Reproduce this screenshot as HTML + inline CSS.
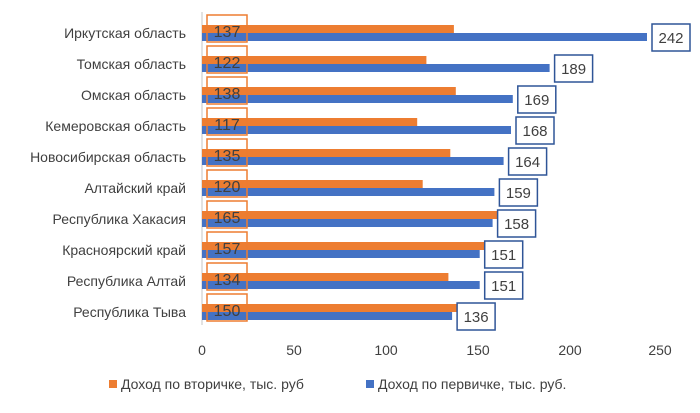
<!DOCTYPE html><html><head><style>body{margin:0;background:#fff}</style></head><body>
<svg width="700" height="408" xmlns="http://www.w3.org/2000/svg" font-family="Liberation Sans, sans-serif">
<line x1="202" y1="12" x2="202" y2="325" stroke="#d9d9d9" stroke-width="1.5"/>
<g font-size="14" fill="#404040" text-anchor="end">
<text x="186" y="38">Иркутская область</text>
<text x="186" y="69">Томская область</text>
<text x="186" y="100">Омская область</text>
<text x="186" y="131">Кемеровская область</text>
<text x="186" y="162">Новосибирская область</text>
<text x="186" y="193">Алтайский край</text>
<text x="186" y="224">Республика Хакасия</text>
<text x="186" y="255">Красноярский край</text>
<text x="186" y="286">Республика Алтай</text>
<text x="186" y="317">Республика Тыва</text>
</g>
<g fill="#ed7d31">
<rect x="202" y="25" width="251.9" height="8"/>
<rect x="202" y="56" width="224.4" height="8"/>
<rect x="202" y="87" width="253.8" height="8"/>
<rect x="202" y="118" width="215.2" height="8"/>
<rect x="202" y="149" width="248.3" height="8"/>
<rect x="202" y="180" width="220.7" height="8"/>
<rect x="202" y="211" width="303.4" height="8"/>
<rect x="202" y="242" width="288.7" height="8"/>
<rect x="202" y="273" width="246.4" height="8"/>
<rect x="202" y="304" width="275.9" height="8"/>
</g>
<g fill="#4472c4">
<rect x="202" y="33" width="445" height="8"/>
<rect x="202" y="64" width="347.6" height="8"/>
<rect x="202" y="95" width="310.8" height="8"/>
<rect x="202" y="126" width="309" height="8"/>
<rect x="202" y="157" width="301.6" height="8"/>
<rect x="202" y="188" width="292.4" height="8"/>
<rect x="202" y="219" width="290.6" height="8"/>
<rect x="202" y="250" width="277.7" height="8"/>
<rect x="202" y="281" width="277.7" height="8"/>
<rect x="202" y="312" width="250.1" height="8"/>
</g>
<g fill="none" stroke="#ed7d31" stroke-width="1.5">
<rect x="207" y="15" width="40" height="27"/>
<rect x="207" y="46" width="40" height="27"/>
<rect x="207" y="77" width="40" height="27"/>
<rect x="207" y="108" width="40" height="27"/>
<rect x="207" y="139" width="40" height="27"/>
<rect x="207" y="170" width="40" height="27"/>
<rect x="207" y="201" width="40" height="27"/>
<rect x="207" y="232" width="40" height="27"/>
<rect x="207" y="263" width="40" height="27"/>
<rect x="207" y="294" width="40" height="27"/>
</g>
<g font-size="16" fill="#404040" text-anchor="middle">
<text x="227" y="37">137</text>
<text x="227" y="68">122</text>
<text x="227" y="99">138</text>
<text x="227" y="130">117</text>
<text x="227" y="161">135</text>
<text x="227" y="192">120</text>
<text x="227" y="223">165</text>
<text x="227" y="254">157</text>
<text x="227" y="285">134</text>
<text x="227" y="316">150</text>
</g>
<g fill="#fff" stroke="#2f5597" stroke-width="1.5">
<rect x="652" y="24" width="38" height="27"/>
<rect x="554.6" y="55" width="38" height="27"/>
<rect x="517.8" y="86" width="38" height="27"/>
<rect x="516" y="117" width="38" height="27"/>
<rect x="508.6" y="148" width="38" height="27"/>
<rect x="499.4" y="179" width="38" height="27"/>
<rect x="497.6" y="210" width="38" height="27"/>
<rect x="484.7" y="241" width="38" height="27"/>
<rect x="484.7" y="272" width="38" height="27"/>
<rect x="457.1" y="303" width="38" height="27"/>
</g>
<g font-size="15" fill="#404040" text-anchor="middle">
<text x="671" y="43">242</text>
<text x="573.6" y="74">189</text>
<text x="536.8" y="105">169</text>
<text x="535" y="136">168</text>
<text x="527.6" y="167">164</text>
<text x="518.4" y="198">159</text>
<text x="516.6" y="229">158</text>
<text x="503.7" y="260">151</text>
<text x="503.7" y="291">151</text>
<text x="476.1" y="322">136</text>
</g>
<g font-size="14" fill="#404040" text-anchor="middle">
<text x="202" y="355">0</text><text x="294" y="355">50</text><text x="386" y="355">100</text><text x="478" y="355">150</text><text x="570" y="355">200</text><text x="660" y="355">250</text>
</g>
<rect x="109" y="380" width="8" height="8" fill="#ed7d31"/>
<text x="121" y="389" font-size="14" fill="#404040">Доход по вторичке, тыс. руб</text>
<rect x="366" y="380" width="8" height="8" fill="#4472c4"/>
<text x="378" y="389" font-size="14" fill="#404040">Доход по первичке, тыс. руб.</text>
</svg></body></html>
